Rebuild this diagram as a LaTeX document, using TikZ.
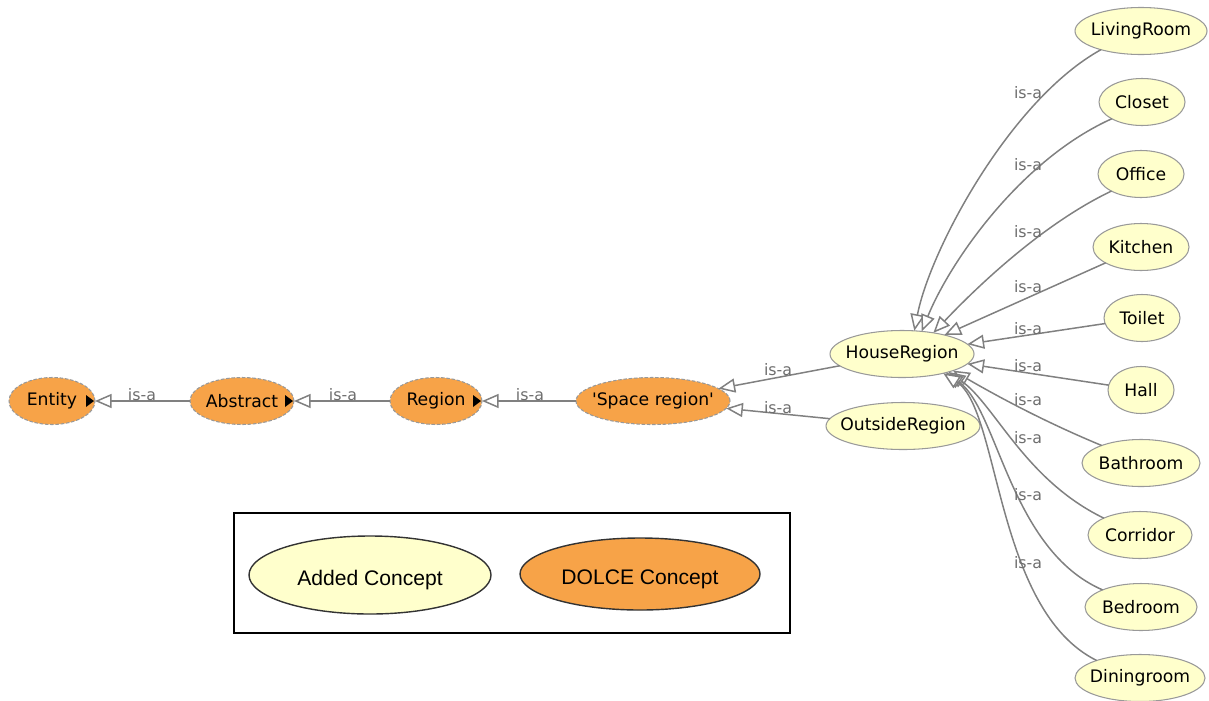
\documentclass[tikz,border=0pt]{standalone}
\usepackage{fontspec}
\setmainfont{DejaVu Sans}
\newfontfamily\legendfont{Liberation Sans}
\usetikzlibrary{shapes.geometric,arrows.meta}
\definecolor{dolce}{RGB}{247,163,72}
\definecolor{added}{RGB}{255,255,204}
\definecolor{edgegray}{RGB}{128,128,128}
\definecolor{labelgray}{RGB}{110,110,110}
% centred text that does not widen the ellipse
\newcommand\nodetext[1]{\makebox[0pt]{#1}}
% legend text, set a little below the middle
\newcommand\keytext[1]{\raisebox{-3pt}[\height][\depth]{#1}}

\tikzset{
  halfw/.style={minimum width=2*#1*0.02cm},
  halfh/.style={minimum height=2*#1*0.02cm},
  concept/.style={ellipse, inner sep=0pt, outer sep=0pt, halfh=23.5,
    font=\fontsize{9.8}{11}\selectfont, line width=0.6pt},
  addedc/.style={concept, fill=added, draw=black!40},
  dolcec/.style={concept, fill=dolce, draw=black!40, dash pattern=on 2pt off 1pt},
  isa/.style={draw=edgegray, line width=0.85pt,
    -{Triangle[fill=white, length=9.5pt, width=8pt]}},
  isalabel/.style={text=labelgray, font=\fontsize{9}{10}\selectfont, inner sep=0pt},
  legendc/.style={ellipse, inner sep=0pt, draw=black!80, line width=0.8pt,
    font=\legendfont\fontsize{12}{14}\selectfont},
}

\begin{document}
\begin{tikzpicture}[x=0.02cm,y=-0.02cm]
\useasboundingbox (0,0) rectangle (1209,700);

% DOLCE concepts
\node[dolcec, halfw=43] (entity)   at (52,401)  {\nodetext{Entity}};
\node[dolcec, halfw=52] (abstract) at (242,401) {\nodetext{Abstract}};
\node[dolcec, halfw=46] (region)   at (436,401) {\nodetext{Region}};
\node[dolcec, halfw=77] (space)    at (653,401) {\nodetext{\textquotesingle Space region\textquotesingle}};

% added concepts
\node[addedc, halfw=72] (house)   at (902,354) {\nodetext{HouseRegion}};
\node[addedc, halfw=77] (outside) at (903,426) {\nodetext{OutsideRegion}};

\node[addedc, halfw=66] (living)   at (1141,31)  {\nodetext{LivingRoom}};
\node[addedc, halfw=43] (closet)   at (1142,102) {\nodetext{Closet}};
\node[addedc, halfw=43] (office)   at (1141,174) {\nodetext{Office}};
\node[addedc, halfw=48] (kitchen)  at (1141,247) {\nodetext{Kitchen}};
\node[addedc, halfw=38] (toilet)   at (1142,318) {\nodetext{Toilet}};
\node[addedc, halfw=33] (hall)     at (1141,390) {\nodetext{Hall}};
\node[addedc, halfw=59] (bathroom) at (1141,463) {\nodetext{Bathroom}};
\node[addedc, halfw=52] (corridor) at (1140,535) {\nodetext{Corridor}};
\node[addedc, halfw=56] (bedroom)  at (1141,607) {\nodetext{Bedroom}};
\node[addedc, halfw=65] (dining)   at (1140,678) {\nodetext{Diningroom}};

% expand markers of the DOLCE chain
\foreach \n in {entity,abstract,region}
  \fill[black] (\n.east) ++(-9,-6) -- ++(8,6) -- ++(-8,6) -- cycle;

% is-a links along the DOLCE chain
\draw[isa] (abstract) -- (entity);
\draw[isa] (region) -- (abstract);
\draw[isa] (space) -- (region);
\draw[isa] (house) -- (space);
\draw[isa] (outside) -- (space);

% is-a links of the rooms
\draw[isa] (living.205) .. controls (1010,100) and (930,250) .. (house.62);
\draw[isa] (closet.209) .. controls (1020,160) and (950,262) .. (house.49);
\draw[isa] (office.210) .. controls (1040,225) and (972,292) .. (house.34);
\draw[isa] (kitchen) -- (house);
\draw[isa] (toilet) -- (house);
\draw[isa] (hall) -- (house);
\draw[isa] (bathroom.156) .. controls (1040,420) and (990,392) .. (house.-18);
\draw[isa] (corridor.155) .. controls (1025,480) and (995,405) .. (house.-21);
\draw[isa] (bedroom.156) .. controls (1010,550) and (998,410) .. (house.-23);
\draw[isa] (dining.158) .. controls (995,610) and (1000,410) .. (house.-25);

% link labels
\node[isalabel] (l-entity)   at (142,395) {is-a};
\node[isalabel] (l-abstract) at (343,395) {is-a};
\node[isalabel] (l-region)   at (530,395) {is-a};
\node[isalabel] (l-house)    at (778,370) {is-a};
\node[isalabel] (l-outside)  at (778,408) {is-a};
\node[isalabel] (l-living)   at (1028,93)  {is-a};
\node[isalabel] (l-closet)   at (1028,165) {is-a};
\node[isalabel] (l-office)   at (1028,232) {is-a};
\node[isalabel] (l-kitchen)  at (1028,287) {is-a};
\node[isalabel] (l-toilet)   at (1028,329) {is-a};
\node[isalabel] (l-hall)     at (1028,366) {is-a};
\node[isalabel] (l-bathroom) at (1028,400) {is-a};
\node[isalabel] (l-corridor) at (1028,438) {is-a};
\node[isalabel] (l-bedroom)  at (1028,495) {is-a};
\node[isalabel] (l-dining)   at (1028,563) {is-a};

% legend
\node[draw=black, line width=1.1pt, halfw=278, halfh=60, inner sep=0pt] (legend) at (512,573) {};
\node[legendc, halfw=121, halfh=39, fill=added] (key-added) at (370,575) {\keytext{Added Concept}};
\node[legendc, halfw=120, halfh=36, fill=dolce] (key-dolce) at (640,574) {\keytext{DOLCE Concept}};
\end{tikzpicture}
\end{document}
